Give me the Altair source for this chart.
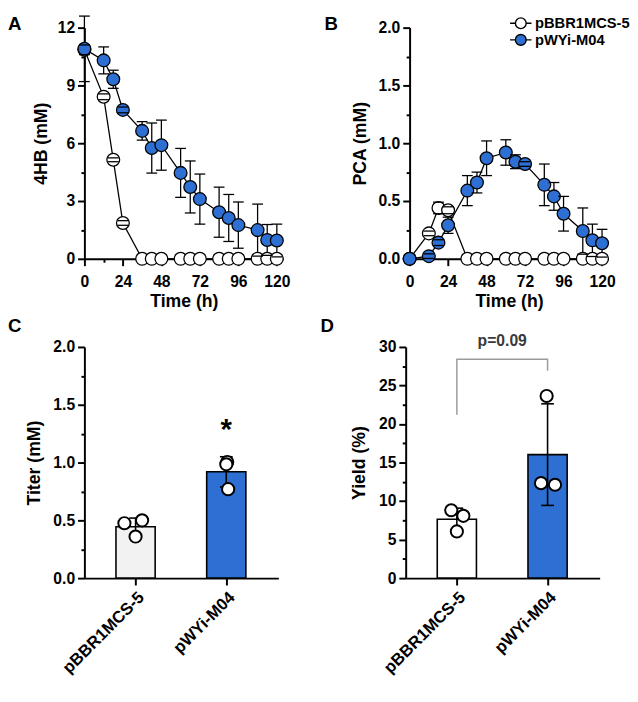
import altair as alt
import pandas as pd

BLUE = "#2e6fd3"
FONT = "Liberation Sans"

# ---------------- data ----------------
times = [0, 12, 18, 24, 36, 42, 48, 60, 66, 72, 84, 90, 96, 108, 114, 120]
series_names = ["pBBR1MCS-5", "pWYi-M04"]

hb_ctrl_mean = [10.85, 8.41, 5.14, 1.86, 0, 0, 0, 0, 0, 0, 0, 0, 0, 0, 0, 0]
hb_ctrl_sd = [0.25, 0.15, 0.1, 0.12, 0, 0, 0, 0, 0, 0, 0, 0, 0, 0, 0, 0]
hb_m04_mean = [10.9, 10.3, 9.32, 7.73, 6.64, 5.75, 5.9, 4.46, 3.73, 3.1, 2.42, 2.12, 1.75, 1.49, 0.98, 0.95]
hb_m04_sd = [1.7, 0.7, 0.47, 0.15, 0.48, 1.3, 1.3, 1.27, 1.35, 1.3, 1.3, 1.22, 1.2, 1.35, 0.8, 0.85]

pca_ctrl_mean = [0, 0.22, 0.44, 0.42, 0, 0, 0, 0, 0, 0, 0, 0, 0, 0, 0, 0]
pca_ctrl_sd = [0, 0.02, 0.05, 0.03, 0, 0, 0, 0, 0, 0, 0, 0, 0, 0, 0, 0]
pca_m04_mean = [0, 0.023, 0.14, 0.29, 0.59, 0.66, 0.87, 0.92, 0.84, 0.82, 0.64, 0.54, 0.39, 0.24, 0.16, 0.135]
pca_m04_sd = [0, 0.02, 0.025, 0.07, 0.13, 0.09, 0.15, 0.11, 0.06, 0.02, 0.18, 0.12, 0.15, 0.2, 0.14, 0.12]

titer_ctrl = [0.475, 0.50, 0.36]
titer_m04 = [1.005, 0.985, 0.77]
yield_ctrl = [8.81, 8.09, 6.06]
yield_m04 = [23.64, 12.33, 12.12]

# annotations (data units)
star_text = "*"
star_at = [1, 1.2]
p_text = "p=0.09"
p_at = [0.5, 30.1]
bracket_x = [0, 0, 1, 1]
bracket_y = [21.2, 28.4, 28.4, 26.9]

# styling: horizontal jitter of replicate dots (pixels)
jit_titer_ctrl = [-12, 7, 0]
jit_titer_m04 = [1, 0, 2]
jit_yield_ctrl = [-6, 7, 0]
jit_yield_m04 = [-1, -7, 8]

TC_W, TC_H = 203, 236
BAR_W, BAR_H = 198, 236
TC_XD = [0, 124]
BAR_XD = [-0.51, 1.52]
TICK_FS = 16
TITLE_FS = 18


def minor_axis(values, major, title=None, fmt=None, **kw):
    test = f"abs(datum.value / {major} - round(datum.value / {major})) > 1e-6"
    args = dict(
        values=values,
        labelExpr=f"({test}) ? '' : datum.label",
        tickSize={"condition": {"test": test, "value": 3.5}, "value": 7},
        title=title,
    )
    if fmt:
        args["format"] = fmt
    args.update(kw)
    return alt.Axis(**args)


def letter_layer(letter, dx, dy):
    return alt.Chart(pd.DataFrame({"t": [letter]})).mark_text(
        align="left", baseline="top", fontSize=19, fontWeight="bold", font=FONT, color="black"
    ).encode(text="t:N", x=alt.value(dx), y=alt.value(dy))


def timecourse(ctrl_m, ctrl_s, m04_m, m04_s, ydom, yvals, ymajor, yfmt, ytitle, tpad, letter, ldx, legend):
    rows = []
    for name, m, s in ((series_names[0], ctrl_m, ctrl_s), (series_names[1], m04_m, m04_s)):
        for t, v, e in zip(times, m, s):
            rows.append({"time": t, "series": name, "mean": v, "sd": e})
    df = pd.DataFrame(rows)
    base = alt.Chart(df)
    xaxis = minor_axis(list(range(0, 121, 12)), 24, title="Time (h)", labelPadding=8, titlePadding=4)
    xenc = alt.X("time:Q", scale=alt.Scale(domain=TC_XD, nice=False, zero=False), axis=xaxis)
    yaxis = minor_axis(yvals, ymajor, title=ytitle, fmt=yfmt, titlePadding=tpad, labelPadding=3)
    yscale = alt.Scale(domain=ydom, nice=False, zero=False)

    def yenc(f):
        return alt.Y(f"{f}:Q", scale=yscale, axis=yaxis)

    line = base.mark_line(color="black", strokeWidth=1.3).encode(x=xenc, y=yenc("mean"), detail="series:N")
    err = base.transform_filter("datum.sd > 0").transform_calculate(
        lo="datum.mean - datum.sd", hi="datum.mean + datum.sd"
    )
    rule = err.mark_rule(color="black", strokeWidth=1.3).encode(x=xenc, y=yenc("lo"), y2="hi:Q")
    caps = err.transform_fold(["lo", "hi"], as_=["end", "yv"]).mark_tick(
        orient="horizontal", size=11, thickness=1.3, color="black", opacity=1
    ).encode(x=xenc, y=yenc("yv"))
    if legend:
        sym = "M-2,0L-1,0M1,0L2,0M1,0A1,1,0,1,1,-1,0A1,1,0,1,1,1,0Z"
        fill = alt.Fill(
            "series:N",
            scale=alt.Scale(domain=series_names, range=["white", BLUE]),
            legend=alt.Legend(
                title=None, orient="none", legendX=106, legendY=-12, padding=0,
                symbolType=sym, symbolSize=120, symbolStrokeColor="black", symbolStrokeWidth=1.4,
                labelFont=FONT, labelFontSize=15, labelFontWeight="bold", labelColor="black",
                labelOffset=7, rowPadding=0,
            ),
        )
    else:
        fill = alt.condition(f"datum.series == '{series_names[1]}'", alt.value(BLUE), alt.value("white"))
    pts = base.mark_point(shape="circle", filled=True, size=170, stroke="black", strokeWidth=1.3, opacity=1).encode(
        x=xenc, y=yenc("mean"), fill=fill
    )
    return alt.layer(line, rule, pts, caps, letter_layer(letter, ldx, -12.6)).properties(width=TC_W, height=TC_H)


def bar_panel(ctrl, m04, jc, jm, ydom, yvals, ymajor, yfmt, ytitle, tpad, ctrl_fill, letter, ldx, extra):
    ppu = BAR_W / (BAR_XD[1] - BAR_XD[0])
    rows = []
    for i, (name, vals, jit) in enumerate(((series_names[0], ctrl, jc), (series_names[1], m04, jm))):
        for v, j in zip(vals, jit):
            rows.append({"group": name, "idx": i, "value": v, "jit": j / ppu})
    df = pd.DataFrame(rows)
    base = alt.Chart(df)
    names_js = "[" + ",".join(f"'{n}'" for n in series_names) + "]"
    xaxis = alt.Axis(values=[0, 1], labelExpr=f"{names_js}[datum.value]", labelAngle=-45, title=None,
                     tickSize=7, labelPadding=4, labelFontSize=17)
    xscale = alt.Scale(domain=BAR_XD, nice=False, zero=False)

    def xenc(f):
        return alt.X(f"{f}:Q", scale=xscale, axis=xaxis)

    yaxis = minor_axis(yvals, ymajor, title=ytitle, fmt=yfmt, titlePadding=tpad, labelPadding=3)
    yscale = alt.Scale(domain=ydom, nice=False, zero=False)

    def yenc(f):
        return alt.Y(f"{f}:Q", scale=yscale, axis=yaxis)

    agg = base.transform_aggregate(m="mean(value)", s="stdev(value)", groupby=["group", "idx"]).transform_calculate(
        lo="datum.m - datum.s", hi="datum.m + datum.s"
    )
    bars = agg.mark_bar(orient="vertical", size=40, stroke="black", strokeWidth=1.6).encode(
        x=xenc("idx"), y=yenc("m"),
        fill=alt.condition(f"datum.group == '{series_names[1]}'", alt.value(BLUE), alt.value(ctrl_fill)),
    )
    rule = agg.mark_rule(color="black", strokeWidth=1.6).encode(x=xenc("idx"), y=yenc("lo"), y2="hi:Q")
    caps = agg.transform_fold(["lo", "hi"], as_=["end", "yv"]).mark_tick(
        orient="horizontal", size=13, thickness=1.6, color="black", opacity=1
    ).encode(x=xenc("idx"), y=yenc("yv"))
    pts = base.transform_calculate(xj="datum.idx + datum.jit").mark_point(
        shape="circle", filled=True, fill="white", stroke="black", strokeWidth=2, size=155, opacity=1
    ).encode(x=xenc("xj"), y=yenc("value"))
    layers = [bars, rule, caps, pts]
    for kind, payload in extra:
        if kind == "star":
            d = pd.DataFrame({"ax": [payload[0][0]], "ay": [payload[0][1]], "t": [payload[1]]})
            layers.append(alt.Chart(d).mark_text(fontSize=30, fontWeight="bold", font=FONT, color="black",
                                                 baseline="alphabetic", align="center").encode(
                x=xenc("ax"), y=yenc("ay"), text="t:N"))
        elif kind == "ptext":
            d = pd.DataFrame({"ax": [payload[0][0]], "ay": [payload[0][1]], "t": [payload[1]]})
            layers.append(alt.Chart(d).mark_text(fontSize=16, fontWeight="bold", font=FONT, color="#3a3a3a",
                                                 baseline="alphabetic", align="center").encode(
                x=xenc("ax"), y=yenc("ay"), text="t:N"))
        elif kind == "bracket":
            d = pd.DataFrame({"bx": payload[0], "by": payload[1], "o": list(range(len(payload[0])))})
            layers.append(alt.Chart(d).mark_line(color="#9b9b9b", strokeWidth=1.5).encode(
                x=xenc("bx"), y=yenc("by"), order="o:Q"))
    layers.append(letter_layer(letter, ldx, -30))
    return alt.layer(*layers).properties(width=BAR_W, height=BAR_H)


panel_a = timecourse(hb_ctrl_mean, hb_ctrl_sd, hb_m04_mean, hb_m04_sd, [0, 12], [i * 1.5 for i in range(9)], 3,
                     None, "4HB (mM)", 7, "A", -78, False)
panel_b = timecourse(pca_ctrl_mean, pca_ctrl_sd, pca_m04_mean, pca_m04_sd, [0, 2], [i * 0.25 for i in range(9)], 0.5,
                     ".1f", "PCA (mM)", 9, "B", -87, True)
panel_c = bar_panel(titer_ctrl, titer_m04, jit_titer_ctrl, jit_titer_m04, [0, 2], [i * 0.25 for i in range(9)], 0.5,
                    ".1f", "Titer (mM)", 10, "#f2f2f2", "C", -78, [("star", (star_at, star_text))])
panel_d = bar_panel(yield_ctrl, yield_m04, jit_yield_ctrl, jit_yield_m04, [0, 30], [i * 2.5 for i in range(13)], 5,
                    None, "Yield (%)", 10, "white", "D", -87,
                    [("bracket", (bracket_x, bracket_y)), ("ptext", (p_at, p_text))])

row1 = alt.hconcat(panel_a, panel_b, spacing=35).resolve_scale(fill="independent").resolve_legend(fill="independent")
row2 = alt.hconcat(panel_c, panel_d, spacing=43).resolve_scale(fill="independent").resolve_legend(fill="independent")

chart = (
    alt.vconcat(row1, row2, spacing=7)
    .resolve_scale(fill="independent")
    .resolve_legend(fill="independent")
    .properties(padding=0)
    .configure_view(stroke=None)
    .configure_axis(
        grid=False,
        labelFont=FONT, labelFontSize=TICK_FS, labelFontWeight="bold", labelColor="black",
        titleFont=FONT, titleFontSize=TITLE_FS, titleFontWeight="bold", titleColor="black",
        domainColor="black", domainWidth=2, tickColor="black", tickWidth=2,
        labelFlush=False, labelOverlap=False,
    )
)

chart.save("out.html", embed_options={"renderer": "svg", "actions": False})
